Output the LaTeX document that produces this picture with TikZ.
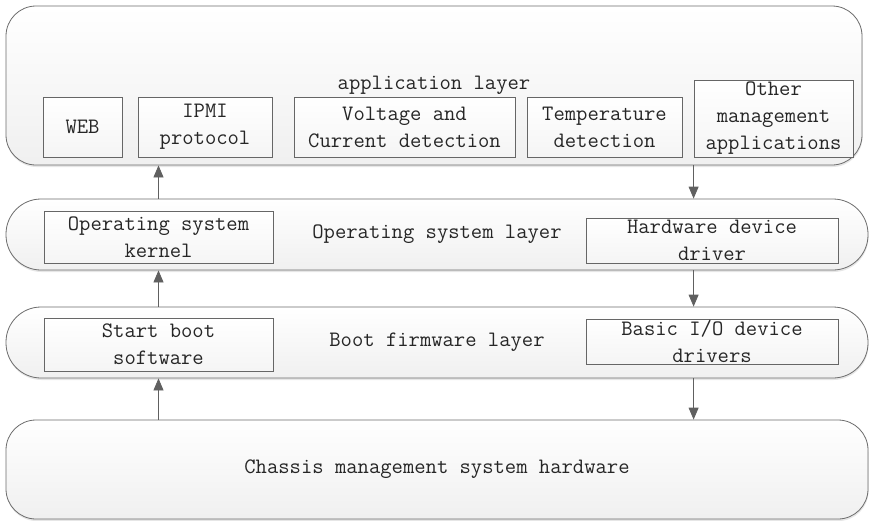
\documentclass[tikz,border=0pt]{standalone}
\usepackage{tikz}
\usetikzlibrary{arrows.meta,shadows}

\begin{document}
\begin{tikzpicture}[x=1pt,y=-1pt,
  font=\fontsize{22}{27}\selectfont\ttfamily,
  layer/.style={draw=gray!85!black, line width=.8pt, top color=white, bottom color=gray!12,
    rounded corners=#1, inner sep=0pt, text=black!85,
    drop shadow={shadow xshift=.5pt, shadow yshift=-2pt, opacity=.2, fill=gray}},
  part/.style={draw=gray!80!black, line width=.8pt, top color=white, bottom color=gray!8,
    inner sep=0pt, align=center, text=black!85},
  flow/.style={draw=gray!75!black, line width=.8pt, -{Triangle[width=10pt,length=12pt]}}]
  \useasboundingbox (0,0) rectangle (870,520);

  % the four layers
  \node[layer=30pt, minimum width=856pt, minimum height=159pt] (applayer) at (434,85.5) {application layer};
  \node[layer=35pt, minimum width=862pt, minimum height=71pt] (oslayer) at (437,234.5) {Operating system layer};
  \node[layer=35pt, minimum width=862pt, minimum height=71pt] (bootlayer) at (437,342.5) {Boot firmware layer};
  \node[layer=30pt, minimum width=862pt, minimum height=99pt] (hwlayer) at (437,469.5) {Chassis management system hardware};

  % application modules
  \node[part, minimum width=79pt, minimum height=60pt] (web) at (82.5,127) {WEB};
  \node[part, minimum width=134pt, minimum height=60pt] (ipmi) at (205,127) {IPMI\\protocol};
  \node[part, minimum width=221pt, minimum height=60pt] (volt) at (404.5,127) {Voltage and\\Current detection};
  \node[part, minimum width=155pt, minimum height=60pt] (temp) at (604.5,127) {Temperature\\detection};
  \node[part, minimum width=159pt, minimum height=77pt] (other) at (773.5,118.5) {Other\\management\\applications};

  % os and boot parts
  \node[part, minimum width=229pt, minimum height=52pt] (kernel) at (158.5,237) {Operating system\\kernel};
  \node[part, minimum width=252pt, minimum height=45pt] (hwdrv) at (712,240.5) {Hardware device\\driver};
  \node[part, minimum width=229pt, minimum height=53pt] (bootsw) at (158.5,344.5) {Start boot\\software};
  \node[part, minimum width=252pt, minimum height=45pt] (biodrv) at (712,341.5) {Basic I/O device\\drivers};

  % upward path
  \draw[flow] (bootsw |- hwlayer.north) -- (bootsw |- bootlayer.south);
  \draw[flow] (kernel |- bootlayer.north) -- (kernel |- oslayer.south);
  \draw[flow] (kernel |- oslayer.north) -- (kernel |- applayer.south);
  % downward path
  \draw[flow] (other.west |- applayer.south) -- (other.west |- oslayer.north);
  \draw[flow] (other.west |- oslayer.south) -- (other.west |- bootlayer.north);
  \draw[flow] (other.west |- bootlayer.south) -- (other.west |- hwlayer.north);
\end{tikzpicture}
\end{document}
